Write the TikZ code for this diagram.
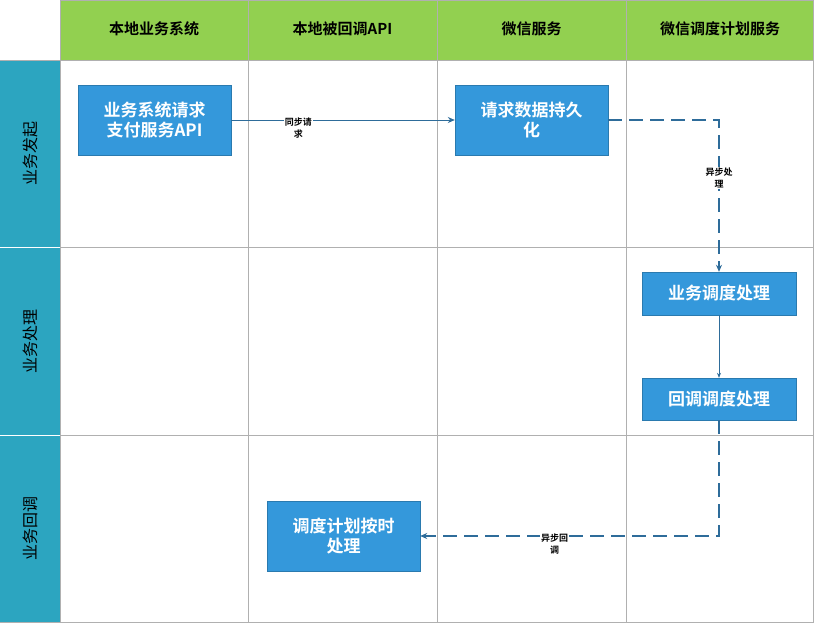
\documentclass[tikz,border=0pt]{standalone}
\usepackage{fontspec}
\setmainfont{Noto Sans CJK SC}[BoldFont={Noto Sans CJK SC Bold}]
\usetikzlibrary{arrows.meta}
\definecolor{hdr}{HTML}{92D050}
\definecolor{lane}{HTML}{2CA5C0}
\definecolor{boxc}{HTML}{3498DB}
\definecolor{linec}{HTML}{2E6C9A}
\definecolor{gridc}{HTML}{B0B0B0}
\begin{document}
\begin{tikzpicture}[x=1pt,y=-1pt,
  proc/.style={fill=boxc,draw=boxc!80!black,line width=0.4pt,text=white,font=\bfseries\fontsize{17}{20}\selectfont,align=center,inner sep=0pt},
  lbl/.style={font=\bfseries\fontsize{9}{12}\selectfont,align=center,fill=white,inner sep=1pt},
  conn/.style={draw=linec,line width=1.2pt,-{Stealth[length=7pt,width=6pt]}},
  dconn/.style={conn,dash pattern=on 14pt off 7pt}]
\useasboundingbox (0,0) rectangle (814,624);
% header
\foreach \a/\b/\t in {60/248/本地业务系统,248/437/本地被回调API,437/626/微信服务,626/814/微信调度计划服务}{
  \fill[hdr] (\a,0) rectangle (\b,60);
  \node[font=\bfseries\fontsize{15}{18}\selectfont] at ({(\a+\b)/2},29) {\t};
}
% lanes
\foreach \a/\b/\t in {60/247/业务发起,247/435/业务处理,435/622/业务回调}{
  \fill[lane] (0,\a) rectangle (60,\b);
  \node[rotate=90,font=\fontsize{16}{18}\selectfont] at (30,{(\a+\b)/2}) {\t};
}
% grid
\draw[gridc,line width=0.6pt] (60,0) -- (60,622) (248,0) -- (248,622) (437,0) -- (437,622) (626,0) -- (626,622) (813.5,0) -- (813.5,622);
\draw[gridc,line width=0.6pt] (0,60) -- (814,60) (0,247) -- (814,247) (0,435) -- (814,435) (0,622) -- (814,622) (60,0.3) -- (814,0.3);
\draw[white,line width=0.8pt] (0,247) -- (60,247) (0,435) -- (60,435);
% nodes
\node[proc,minimum width=153pt,minimum height=70pt] (a) at (154.5,120) {业务系统请求\\支付服务API};
\node[proc,minimum width=153pt,minimum height=70pt] (b) at (531.5,120) {请求数据持久\\化};
\node[proc,minimum width=154pt,minimum height=43pt] (c) at (719,293.5) {业务调度处理};
\node[proc,minimum width=154pt,minimum height=42pt] (d) at (719,399) {回调调度处理};
\node[proc,minimum width=153pt,minimum height=70pt] (e) at (343.5,536) {调度计划按时\\处理};
\coordinate (k1) at (719,120);
\coordinate (k2) at (719,536);
% connectors
\draw[conn,line width=1pt] (a) -- node[lbl,pos=0.3,below=-4pt]{同步请\\求} (b);
\draw[dconn] (b.east) -- (k1) -- node[lbl,pos=0.38]{异步处\\理} (c.north);
\draw[conn,line width=0.6pt,-{Stealth[length=5pt,width=4pt]}] (c) -- (d);
\draw[dconn] (d.south) -- (k2) -- node[lbl,pos=0.55,below=-4pt]{异步回\\调} (e.east);
\end{tikzpicture}
\end{document}
